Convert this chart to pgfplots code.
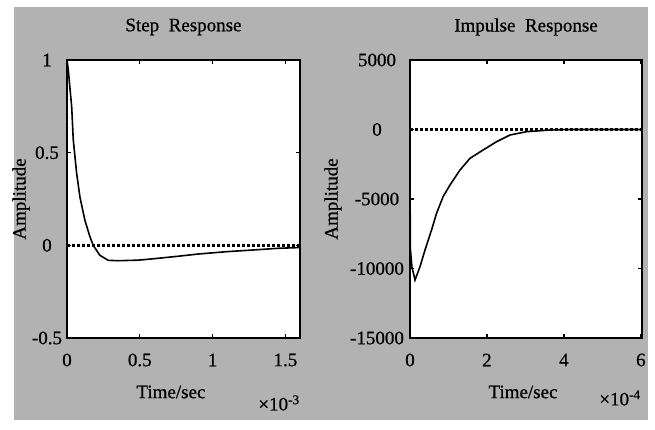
\documentclass[border=0pt]{standalone}
\usepackage{fontspec}
\setmainfont{Liberation Serif}[FakeBold=0.7]
\usepackage{pgfplots}
\pgfplotsset{compat=1.18}
\pgfplotsset{
  myax/.style={
    scale only axis, height=278pt,
    axis background/.style={fill=white},
    axis line style={line width=2pt},
    tick align=inside, major tick length=4pt,
    tick style={line width=1.2pt, black},
    scaled ticks=false,
    xticklabel style={anchor=center, yshift=-22pt},
    title style={at={(axis description cs:0.5,1)}, anchor=center, yshift=27pt},
  }
}
\begin{document}
\begin{tikzpicture}[x=1pt,y=1pt,font=\fontsize{19}{22}\selectfont]
\useasboundingbox (0,0) rectangle (655,430);
\fill[white] (0,0) rectangle (655,430);
\fill[black!30] (14,10) rectangle (648,423);

\begin{axis}[myax,
  at={(67pt,92pt)}, anchor=south west, width=233pt,
  xmin=0, xmax=1.6, ymin=-0.5, ymax=1,
  xtick={0,0.5,1,1.5}, xticklabels={0,0.5,1,1.5},
  ytick={-0.5,0,0.5,1}, yticklabels={-0.5,0,0.5,1},
  yticklabel style={anchor=center, xshift=-20pt},
  title={Step\ \ Response},
  xlabel={Time/sec},
  xlabel style={at={(axis description cs:0.446,-0.194)}, anchor=center},
  ylabel={Amplitude},
  ylabel style={at={(axis description cs:-0.197,0.5)}, anchor=center},
]
\addplot[black, line width=2.8pt, dash pattern=on 2.5pt off 2.5pt] coordinates {(0,0) (1.6,0)};
\addplot[black, line width=1.6pt] coordinates {
(0,1) (0.009,0.946) (0.02,0.85) (0.032,0.75) (0.043,0.57) (0.066,0.39)
(0.089,0.26) (0.123,0.135) (0.158,0.045) (0.18,0) (0.226,-0.054)
(0.283,-0.081) (0.35,-0.083) (0.49,-0.08)
(0.6,-0.072) (0.75,-0.06) (0.9,-0.047) (1.1,-0.034) (1.3,-0.024)
(1.45,-0.016) (1.6,-0.012)};
\end{axis}

\begin{axis}[myax,
  at={(410pt,92pt)}, anchor=south west, width=232pt,
  xmin=0, xmax=6.03, ymin=-15000, ymax=5000,
  xtick={0,2,4,6}, xticklabels={0,2,4,6},
  ytick={-15000,-10000,-5000,0,5000},
  yticklabels={-15000,-10000,-5000,0,5000},
  yticklabel style={anchor=center, xshift=-33pt},
  title={Impulse\ \ Response},
  xlabel={Time/sec},
  xlabel style={at={(axis description cs:0.487,-0.194)}, anchor=center},
  ylabel={Amplitude},
  ylabel style={at={(axis description cs:-0.332,0.5)}, anchor=center},
]
\addplot[black, line width=2.8pt, dash pattern=on 2.5pt off 2.5pt] coordinates {(0,0) (6.03,0)};
\addplot[black, line width=1.6pt] coordinates {
(0,-3400) (0.01,-8600) (0.05,-9900) (0.09,-10340) (0.13,-10830)
(0.26,-9870) (0.39,-8669) (0.56,-7230) (0.69,-6029) (0.86,-4834)
(1.04,-3993) (1.30,-2914) (1.56,-2072) (1.90,-1475) (2.25,-878)
(2.60,-396) (3.03,-158) (3.64,-36) (4.2,0) (6.03,0)};
\end{axis}

\node[font=\fontsize{19}{22}\selectfont] at (279,27) {×10\textsuperscript{-3}};
\node[font=\fontsize{19}{22}\selectfont] at (620,32) {×10\textsuperscript{-4}};
\end{tikzpicture}
\end{document}
